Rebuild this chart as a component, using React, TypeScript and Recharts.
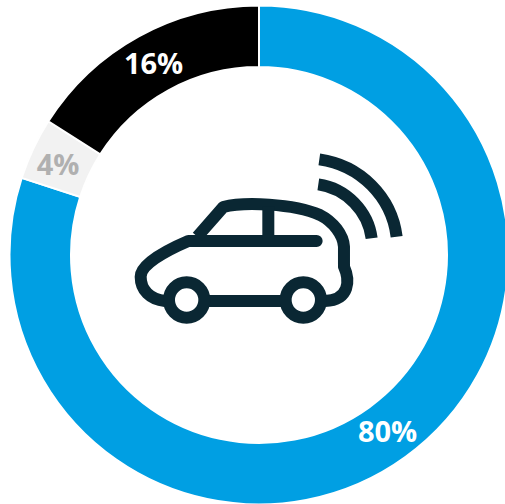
import React from "react";
import { PieChart, Pie, Cell } from "recharts";

const categories = ["Blue", "Grey", "Black"];
const values = [80, 4, 16];
const colors = ["#009FE3", "#F2F2F2", "#000000"];
const labelColors = ["#FFFFFF", "#B0B0B0", "#FFFFFF"];
const data = categories.map((name, i) => ({ name, value: values[i] }));

const RAD = Math.PI / 180;
const renderLabel = (p: any) => {
  const r = (p.innerRadius + p.outerRadius) / 2;
  const nudgeX = p.index === 1 ? -3 : 0;
  const nudgeY = p.index === 1 ? 2 : -1;
  const x = p.cx + r * Math.cos(-p.midAngle * RAD) + nudgeX;
  const y = p.cy + r * Math.sin(-p.midAngle * RAD) + nudgeY;
  return (
    <text x={x} y={y} textAnchor="middle" dominantBaseline="central" fill={labelColors[p.index]}
      style={{ fontFamily: "'Open Sans', sans-serif", fontWeight: 700, fontSize: 29 }}>
      {`${p.value}%`}
    </text>
  );
};

export default function App() {
  return (
    <div style={{ position: "absolute", left: 0, top: 0, width: 505, height: 504, overflow: "hidden", background: "#fff" }}>
      <PieChart width={518} height={510} margin={{ top: 0, right: 0, bottom: 0, left: 0 }}>
        <Pie data={data} dataKey="value" cx={259} cy={255} innerRadius={188} outerRadius={249.5}
          startAngle={90} endAngle={-270} stroke="#FFFFFF" strokeWidth={2}
          isAnimationActive={false} labelLine={false} label={renderLabel}>
          {data.map((d, i) => <Cell key={d.name} fill={colors[i]} />)}
        </Pie>
      </PieChart>
      <svg width={505} height={504} style={{ position: "absolute", left: 0, top: 0, pointerEvents: "none" }}>
        <g transform="translate(120,140) scale(0.3333)" fill="none" stroke="#0A2733" strokeWidth={36}>
          <path strokeLinecap="round" strokeLinejoin="round" d="M135 483 C90 478 62 450 62 410 C62 375 130 335 205 303 L590 303" />
          <path strokeLinejoin="round" d="M232 290 L310 201 C370 185 520 190 600 225 C640 245 670 285 672 320 L672 380 C690 420 690 480 615 483" />
          <path d="M445 200 L445 300" />
          <path d="M265 483 L485 483" />
          <circle cx={200} cy={480} r={53} />
          <circle cx={550} cy={480} r={53} />
          <path d="M598 58 C720 75 815 170 830 290" />
          <path d="M595 133 C680 145 745 215 755 295" />
        </g>
      </svg>
    </div>
  );
}
